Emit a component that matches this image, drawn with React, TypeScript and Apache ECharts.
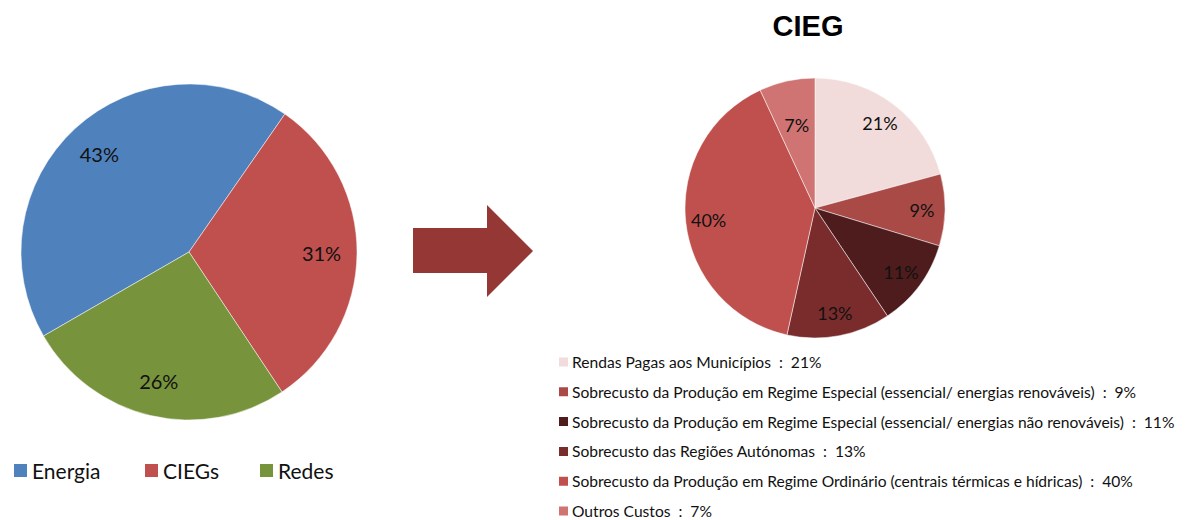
import React, { useEffect, useRef } from "react";
import * as echarts from "echarts";

const leftNames = ["Energia", "CIEGs", "Redes"];
const leftValues = [43, 31, 26];
const leftColors = ["#4F81BD", "#C0504D", "#77933C"];

const rightTitle = "CIEG";
const rightNames = [
  "Rendas Pagas aos Municípios",
  "Sobrecusto da Produção em Regime Especial (essencial/ energias renováveis)",
  "Sobrecusto da Produção em Regime Especial (essencial/ energias não renováveis)",
  "Sobrecusto das Regiões Autónomas",
  "Sobrecusto da Produção em Regime Ordinário (centrais térmicas e hídricas)",
  "Outros Custos",
];
const rightValues = [21, 9, 11, 13, 40, 7];
const rightColors = ["#F2DCDB", "#A94A47", "#4E1C1C", "#7A2C2C", "#C0504D", "#CF7472"];

const FONT = "Lato";

export default function App() {
  const ref = useRef<HTMLDivElement>(null);
  useEffect(() => {
    if (!ref.current) return;
    const chart = echarts.init(ref.current, null, { renderer: "svg" });

    const leftData = leftNames.map((n, i) => ({
      name: n,
      value: leftValues[i],
      itemStyle: { color: leftColors[i] },
    }));
    const rightData = rightNames.map((n, i) => ({
      name: n,
      value: rightValues[i],
      itemStyle: { color: rightColors[i] },
    }));

    const labelStyle = {
      show: true,
      position: "inside",
      formatter: "{c}%",
      color: "#111",
      fontFamily: FONT,
      fontSize: 20,
    };

    const option: any = {
      animation: false,
      backgroundColor: "#ffffff",
      title: {
        text: rightTitle,
        left: 808,
        top: 11,
        padding: 0,
        textAlign: "center",
        textStyle: { fontFamily: "Liberation Sans", fontWeight: "bold", fontSize: 29, color: "#000" },
      },
      legend: [
        ...leftNames.map((n, i) => ({
          data: [n],
          left: [12, 143, 258][i],
          top: 460,
          padding: 0,
          icon: "rect",
          itemWidth: 15,
          itemHeight: 15,
          selectedMode: false,
          textStyle: { fontFamily: FONT, fontSize: 21, color: "#111", padding: [0, 0, 0, -1] },
        })),
        {
          data: rightNames,
          orient: "vertical",
          left: 557,
          top: 354,
          height: 200,
          padding: 0,
          icon: "rect",
          itemWidth: 11,
          itemHeight: 11,
          itemGap: 13.8,
          selectedMode: false,
          formatter: (name: string) => {
            const i = rightNames.indexOf(name);
            return `${name}  :  ${rightValues[i]}%`;
          },
          textStyle: { fontFamily: FONT, fontSize: 15.6, color: "#111", lineHeight: 16, padding: [0, 0, 0, -2] },
        },
      ],
      graphic: [
        {
          type: "polygon",
          shape: {
            points: [
              [413, 228],
              [487, 228],
              [487, 205],
              [533, 251],
              [487, 297],
              [487, 273],
              [413, 273],
            ],
          },
          style: { fill: "#953735" },
        },
      ],
      series: [
        {
          type: "pie",
          center: [189, 252],
          radius: [0, 168],
          startAngle: 210,
          clockwise: true,
          label: { show: false },
          labelLine: { show: false },
          itemStyle: { borderColor: "#fff", borderWidth: 0.5 },
          emphasis: { disabled: true },
          data: leftData,
        },
        {
          type: "pie",
          center: [189, 252],
          radius: [91, 168],
          startAngle: 210,
          clockwise: true,
          silent: true,
          label: labelStyle,
          labelLine: { show: false },
          emphasis: { disabled: true },
          data: leftNames.map((n, i) => ({ name: n + " ", value: leftValues[i], itemStyle: { color: "transparent" } })),
        },
        {
          type: "pie",
          center: [815, 208],
          radius: [0, 130],
          startAngle: 90,
          clockwise: true,
          label: { show: false },
          labelLine: { show: false },
          itemStyle: { borderColor: "#fff", borderWidth: 0.5 },
          emphasis: { disabled: true },
          data: rightData,
        },
        {
          type: "pie",
          center: [815, 208],
          radius: [78, 130],
          startAngle: 90,
          clockwise: true,
          silent: true,
          label: { ...labelStyle, fontSize: 18 },
          labelLine: { show: false },
          emphasis: { disabled: true },
          data: rightNames.map((n, i) => ({
            name: n + " ",
            value: rightValues[i],
            itemStyle: { color: "transparent" },
            label: { show: i !== 5 },
          })),
        },
        {
          type: "pie",
          center: [815, 208],
          radius: [34, 130],
          startAngle: 90,
          clockwise: true,
          silent: true,
          label: { ...labelStyle, fontSize: 18 },
          labelLine: { show: false },
          emphasis: { disabled: true },
          data: rightNames.map((n, i) => ({
            name: n + "  ",
            value: rightValues[i],
            itemStyle: { color: "transparent" },
            label: { show: i === 5 },
          })),
        },
      ],
    };
    chart.setOption(option);
    return () => chart.dispose();
  }, []);
  return (
    <div
      ref={ref}
      style={{ position: "absolute", left: 0, top: 0, width: 1187, height: 520 }}
    />
  );
}
